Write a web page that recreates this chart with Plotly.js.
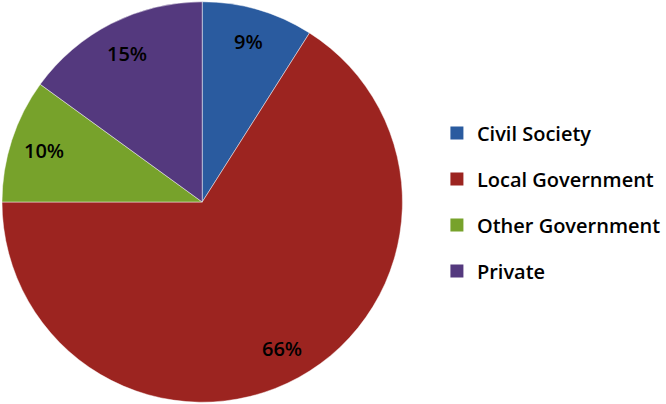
<!DOCTYPE html>
<html><head><meta charset="utf-8">
<script src="https://cdn.plot.ly/plotly-3.0.1.min.js"></script>
<style>html,body{margin:0;padding:0;background:#fff}#chart{width:666px;height:404px}</style>
</head><body><div id="chart"></div>
<script>
const categories = ["Civil Society", "Local Government", "Other Government", "Private"];
const values = [9, 66, 10, 15];
const colors = ["#2A5B9F", "#9C2420", "#77A22B", "#54397E"];

const W = 666, H = 404;
const domX = [0.003, 0.607], domY = [0, 1];

const pie = {
  type: 'pie',
  labels: categories,
  values: values,
  sort: false,
  direction: 'clockwise',
  rotation: 0,
  marker: {colors: colors, line: {color: 'rgba(255,255,255,0.45)', width: 1}},
  textinfo: 'none',
  showlegend: false,
  domain: {x: domX, y: domY},
  hoverinfo: 'none'
};

// percentage labels placed along each slice's mid-angle (derived from the values)
const total = values.reduce((a, b) => a + b, 0);
const cx = (domX[0] + domX[1]) / 2 * W, cy = H / 2;
const R = Math.min((domX[1] - domX[0]) * W, (domY[1] - domY[0]) * H) / 2;
let cum = 0;
const annotations = values.map((v, i) => {
  const mid = (cum + v / 2) / total * 2 * Math.PI;
  cum += v;
  const r = 0.83 * R;
  const px = cx + r * Math.sin(mid), py = cy - r * Math.cos(mid);
  return {
    xref: 'paper', yref: 'paper', x: px / W, y: 1 - py / H,
    xanchor: 'center', yanchor: 'middle', showarrow: false,
    text: Math.round(v / total * 100) + '%',
    font: {family: 'Open Sans', size: 20, weight: 600, color: '#000'}
  };
});

const legendTraces = categories.map((c, i) => ({
  type: 'scatter', mode: 'markers', x: [null], y: [null], name: c,
  legendgroup: 'g' + i,
  marker: {symbol: 'square', size: 13, color: colors[i]},
  showlegend: true, hoverinfo: 'none'
}));

const layout = {
  width: W, height: H,
  margin: {l: 0, r: 0, t: 0, b: 0},
  paper_bgcolor: '#fff', plot_bgcolor: '#fff',
  xaxis: {visible: false}, yaxis: {visible: false},
  showlegend: true,
  annotations: annotations,
  legend: {
    x: 0.659, y: 0.5, xanchor: 'left', yanchor: 'middle',
    font: {family: 'Open Sans', size: 20, weight: 600, color: '#000'},
    traceorder: 'grouped', tracegroupgap: 17,
    itemwidth: 30, bgcolor: 'rgba(0,0,0,0)'
  }
};

Plotly.newPlot('chart', [pie].concat(legendTraces), layout, {staticPlot: true, displayModeBar: false});
</script></body></html>
